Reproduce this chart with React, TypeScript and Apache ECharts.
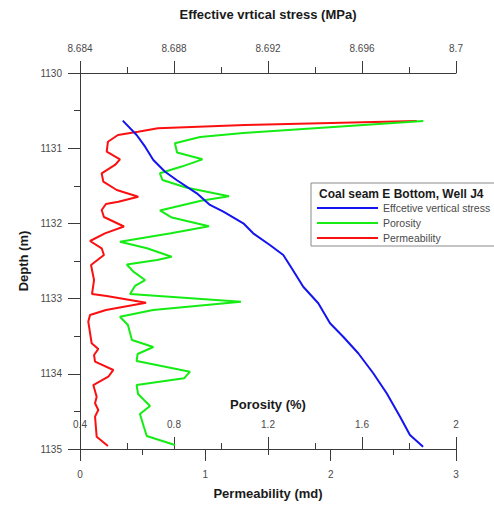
import React, { useEffect, useRef } from "react";
import * as echarts from "echarts";

// Depth (m) and values
const stressDepth = [1130.634, 1130.824, 1130.98, 1131.157, 1131.313, 1131.423, 1131.6, 1131.755, 1131.844, 1131.999, 1132.132, 1132.287, 1132.42, 1132.597, 1132.842, 1133.062, 1133.328, 1133.507, 1133.727, 1133.993, 1134.259, 1134.571, 1134.814, 1134.97];
const stressValues = [8.68582, 8.68641, 8.68677, 8.68712, 8.68762, 8.68811, 8.68897, 8.68953, 8.6901, 8.69095, 8.69137, 8.69208, 8.69265, 8.69301, 8.6935, 8.69414, 8.69464, 8.6952, 8.69584, 8.69648, 8.69705, 8.69762, 8.69804, 8.6986];

const permDepth = [1130.638, 1130.691, 1130.735, 1130.781, 1130.824, 1130.914, 1131.047, 1131.148, 1131.223, 1131.334, 1131.445, 1131.556, 1131.645, 1131.711, 1131.742, 1131.822, 1131.915, 1132.041, 1132.132, 1132.234, 1132.331, 1132.42, 1132.553, 1132.753, 1132.939, 1132.965, 1133.055, 1133.152, 1133.218, 1133.307, 1133.594, 1133.67, 1133.75, 1133.839, 1133.949, 1134.039, 1134.149, 1134.305, 1134.392, 1134.481, 1134.57, 1134.836, 1134.96];
const permValues = [2.687, 1.317, 0.622, 0.463, 0.303, 0.223, 0.213, 0.319, 0.279, 0.173, 0.186, 0.293, 0.465, 0.306, 0.207, 0.173, 0.191, 0.351, 0.199, 0.08, 0.173, 0.191, 0.088, 0.112, 0.096, 0.213, 0.527, 0.207, 0.08, 0.066, 0.093, 0.146, 0.112, 0.12, 0.266, 0.226, 0.106, 0.133, 0.12, 0.146, 0.12, 0.133, 0.223];

const porDepth = [1130.638, 1130.798, 1130.851, 1130.935, 1131.057, 1131.148, 1131.241, 1131.334, 1131.423, 1131.523, 1131.64, 1131.699, 1131.828, 1131.922, 1132.039, 1132.132, 1132.243, 1132.331, 1132.443, 1132.487, 1132.547, 1132.642, 1132.753, 1132.832, 1132.939, 1133.041, 1133.152, 1133.241, 1133.351, 1133.551, 1133.644, 1133.737, 1133.83, 1133.972, 1134.06, 1134.149, 1134.269, 1134.428, 1134.535, 1134.707, 1134.827, 1134.947];
const porValues = [1.861, 1.095, 0.911, 0.804, 0.813, 0.921, 0.836, 0.74, 0.751, 0.851, 1.034, 0.915, 0.74, 0.791, 0.949, 0.787, 0.57, 0.685, 0.79, 0.728, 0.599, 0.627, 0.677, 0.634, 0.613, 1.085, 0.711, 0.57, 0.604, 0.621, 0.712, 0.645, 0.641, 0.868, 0.843, 0.641, 0.647, 0.698, 0.655, 0.672, 0.684, 0.804];

const chartTitle = "Effective vrtical stress (MPa)";
const legendTitle = "Coal seam E Bottom, Well J4";
const seriesNames = ["Effcetive vertical stress", "Porosity", "Permeability"];
const seriesColors = ["#1414f0", "#14ec14", "#fa1010"];

const FONT = "'Liberation Sans', Arial, sans-serif";
const AXIS_COLOR = "#3a3a3a";
const LABEL_COLOR = "#4a4a4a";
const NAME_COLOR = "#1a1a1a";

const fmt = (v: number) => String(parseFloat(v.toFixed(3)));

export default function App() {
  const ref = useRef<HTMLDivElement>(null);
  useEffect(() => {
    if (!ref.current) return;
    const chart = echarts.init(ref.current, null, { renderer: "svg" });
    const axisLine = { show: true, lineStyle: { color: AXIS_COLOR, width: 1 } };
    const nameStyle = { fontFamily: FONT, fontSize: 13, fontWeight: "bold" as const, color: NAME_COLOR };
    const labelStyle = { fontFamily: FONT, fontSize: 10, color: LABEL_COLOR };
    const legendEls: any[] = [];
    seriesNames.forEach((n, i) => {
      const y = 208 + i * 15;
      legendEls.push({
        type: "line",
        z: 101,
        shape: { x1: 317, y1: y, x2: 378, y2: y },
        style: { stroke: seriesColors[i], lineWidth: 2 },
      });
      legendEls.push({
        type: "text",
        z: 101,
        x: 383,
        y: y,
        style: { text: n, verticalAlign: "middle", font: `10.5px ${FONT}`, fill: LABEL_COLOR },
      });
    });
    const option: any = {
      animation: false,
      backgroundColor: "#ffffff",
      grid: { left: 80, top: 73, width: 376, height: 376, containLabel: false },
      xAxis: [
        {
          type: "value",
          position: "top",
          min: 8.684,
          max: 8.7,
          interval: 0.004,
          name: chartTitle,
          nameLocation: "middle",
          nameGap: 52,
          nameTextStyle: nameStyle,
          axisLine,
          axisTick: { show: true, length: 12, lineStyle: { color: AXIS_COLOR } },
          minorTick: { show: true, splitNumber: 2, length: 6, lineStyle: { color: AXIS_COLOR } },
          axisLabel: { ...labelStyle, margin: 20, formatter: fmt, showMinLabel: true, showMaxLabel: true },
          splitLine: { show: false },
        },
        {
          type: "value",
          position: "bottom",
          min: 0,
          max: 3,
          interval: 1,
          name: "Permeability (md)",
          nameLocation: "middle",
          nameGap: 38,
          nameTextStyle: nameStyle,
          axisLine,
          axisTick: { show: true, length: 12, lineStyle: { color: AXIS_COLOR } },
          minorTick: { show: true, splitNumber: 2, length: 6, lineStyle: { color: AXIS_COLOR } },
          axisLabel: { ...labelStyle, margin: 20, formatter: fmt },
          splitLine: { show: false },
        },
        {
          type: "value",
          position: "bottom",
          min: 0.4,
          max: 2,
          interval: 0.4,
          name: "Porosity (%)",
          nameLocation: "middle",
          nameGap: -51,
          nameTextStyle: nameStyle,
          axisLine: { show: false },
          axisTick: { show: true, inside: true, length: 12, lineStyle: { color: AXIS_COLOR } },
          minorTick: { show: true, splitNumber: 2, length: 6, lineStyle: { color: AXIS_COLOR } },
          axisLabel: { ...labelStyle, inside: true, margin: 20, formatter: fmt },
          splitLine: { show: false },
        },
      ],
      yAxis: {
        type: "value",
        inverse: true,
        min: 1130,
        max: 1135,
        interval: 1,
        name: "Depth (m)",
        nameLocation: "middle",
        nameGap: 45,
        nameTextStyle: nameStyle,
        axisLine,
        axisTick: { show: true, length: 12, lineStyle: { color: AXIS_COLOR } },
        minorTick: { show: true, splitNumber: 2, length: 6, lineStyle: { color: AXIS_COLOR } },
        axisLabel: { ...labelStyle, margin: 18, formatter: (v: number) => String(v) },
        splitLine: { show: false },
      },
      series: [
        {
          name: seriesNames[2],
          type: "line",
          xAxisIndex: 1,
          showSymbol: false,
          symbol: "none",
          data: permValues.map((v, i) => [v, permDepth[i]]),
          lineStyle: { color: seriesColors[2], width: 2 },
          itemStyle: { color: seriesColors[2] },
        },
        {
          name: seriesNames[1],
          type: "line",
          xAxisIndex: 2,
          showSymbol: false,
          symbol: "none",
          data: porValues.map((v, i) => [v, porDepth[i]]),
          lineStyle: { color: seriesColors[1], width: 2 },
          itemStyle: { color: seriesColors[1] },
        },
        {
          name: seriesNames[0],
          type: "line",
          xAxisIndex: 0,
          showSymbol: false,
          symbol: "none",
          data: stressValues.map((v, i) => [v, stressDepth[i]]),
          lineStyle: { color: seriesColors[0], width: 2 },
          itemStyle: { color: seriesColors[0] },
        },
      ],
      graphic: [
        {
          type: "rect",
          z: 100,
          shape: { x: 311, y: 183, width: 200, height: 63 },
          style: { fill: "#ffffff", stroke: "#8a8a8a", lineWidth: 1 },
        },
        {
          type: "text",
          z: 101,
          x: 319,
          y: 194,
          style: { text: legendTitle, verticalAlign: "middle", font: `bold 12px ${FONT}`, fill: NAME_COLOR },
        },
        ...legendEls,
      ],
    };
    chart.setOption(option);
    return () => chart.dispose();
  }, []);
  return (
    <div
      ref={ref}
      style={{ position: "fixed", left: 0, top: 0, width: 494, height: 508, background: "#fff" }}
    />
  );
}
